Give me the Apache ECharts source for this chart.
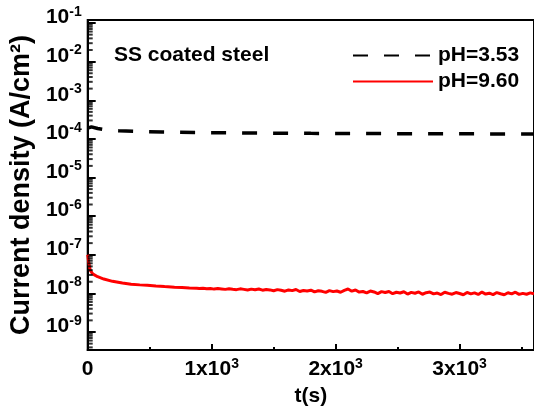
<!DOCTYPE html>
<html lang="en">
<head>
    <meta charset="UTF-8">
    <title>Current density vs time</title>
    <script src="https://cdn.jsdelivr.net/npm/echarts@6/dist/echarts.min.js"></script>
    <style>
        html, body { margin: 0; padding: 0; background: #fff; }
        #main { width: 534px; height: 415px; }
    </style>
</head>
<body>
<div id="main"></div>

<script type="text/javascript">
    // data
    var seriesNames = ['pH=3.53', 'pH=9.60'];

    var blackTime = [0, 30, 80, 150, 250, 400, 600, 900, 1300, 1800, 2400, 3000, 3600];
    var blackValue = [1.9e-4, 2.05e-4, 1.85e-4, 1.7e-4, 1.62e-4, 1.56e-4, 1.5e-4, 1.46e-4, 1.42e-4, 1.39e-4, 1.37e-4, 1.35e-4, 1.34e-4];

    var redTime = [0, 8, 20, 40, 80, 130, 200, 280, 350, 420, 480, 550, 620, 700, 760, 820, 880,
        900, 930, 960, 990, 1020, 1050, 1080, 1110, 1140, 1170,
        1200, 1230, 1260, 1290, 1320, 1350, 1380, 1410, 1440, 1470,
        1500, 1530, 1560, 1590, 1620, 1650, 1680, 1710, 1740, 1770,
        1800, 1830, 1860, 1890, 1920, 1950, 1980, 2010, 2040, 2070,
        2100, 2130, 2160, 2190, 2220, 2250, 2280, 2310, 2340, 2370,
        2400, 2430, 2460, 2490, 2520, 2550, 2580, 2610, 2640, 2670,
        2700, 2730, 2760, 2790, 2820, 2850, 2880, 2910, 2940, 2970,
        3000, 3030, 3060, 3090, 3120, 3150, 3180, 3210, 3240, 3270,
        3300, 3330, 3360, 3390, 3420, 3450, 3480, 3510, 3540, 3570,
        3600];
    // in units of 1e-8 A/cm2
    var redValue = [10.0, 6.5, 4.0, 3.2, 2.7, 2.35, 2.05, 1.85, 1.72, 1.66, 1.63, 1.56, 1.5, 1.45, 1.42, 1.38, 1.35,
        1.33, 1.35, 1.31, 1.34, 1.29, 1.33, 1.30, 1.27, 1.32, 1.28,
        1.25, 1.31, 1.27, 1.22, 1.29, 1.24, 1.30, 1.21, 1.26, 1.23,
        1.17, 1.25, 1.20, 1.14, 1.23, 1.18, 1.26, 1.12, 1.19, 1.15,
        1.21, 1.09, 1.17, 1.13, 1.06, 1.18, 1.11, 1.15, 1.07, 1.20,
        1.30, 1.14, 1.22, 1.08, 1.12, 1.03, 1.15, 1.09, 0.99, 1.11,
        1.05, 1.12, 0.98, 1.07, 1.02, 1.10, 0.96, 1.06, 1.01, 1.09,
        0.95, 1.04, 1.08, 0.97, 1.02, 0.93, 1.07, 1.00, 0.95, 1.05,
        0.99, 0.92, 1.06, 0.97, 1.03, 0.94, 1.08, 0.96, 1.01, 0.93,
        1.05, 0.98, 0.92, 1.04, 0.97, 1.07, 0.94, 1.00, 0.95, 1.03,
        0.97];

    var xTickBase = ['0', '1x10', '2x10', '3x10'];
    var xTickSup = ['', '3', '3', '3'];
    var yExponents = [-1, -2, -3, -4, -5, -6, -7, -8, -9];
    var minorFactors = [2, 3, 4, 5, 6, 7, 8, 9];

    var blackData = blackTime.map(function (t, i) { return [t, blackValue[i]]; });
    var redData = redTime.map(function (t, i) { return [t, redValue[i] * 1e-8]; });

    // log minor ticks on the left axis, drawn as small marks at x = 0
    var minorTicks = [];
    for (var e = -10; e <= -1; e++) {
        minorFactors.forEach(function (k) {
            var v = k * Math.pow(10, e);
            if (v > 3.42e-10 && v < 0.1196) minorTicks.push([0, v]);
        });
    }

    var font = 'Liberation Sans';
    var myChart = echarts.init(document.getElementById('main'));

    var option = {
        animation: false,
        textStyle: { fontFamily: font },
        title: {
            text: 'SS coated steel',
            left: 114,
            top: 45,
            padding: 0,
            textStyle: { fontFamily: font, fontSize: 21, fontWeight: 'bold', color: '#000' }
        },
        legend: {
            data: seriesNames,
            orient: 'vertical',
            left: 352,
            top: 45,
            padding: 0,
            itemWidth: 80,
            itemHeight: 14,
            itemGap: 5,
            itemStyle: { opacity: 0 },
            textStyle: { fontFamily: font, fontSize: 21, fontWeight: 'bold', color: '#000', lineHeight: 21 }
        },
        grid: {
            left: 87, right: -4, top: 20, bottom: 65,
            show: true, borderColor: '#000', borderWidth: 2
        },
        xAxis: {
            type: 'value',
            min: 0, max: 3600, interval: 1000,
            name: 't(s)',
            nameLocation: 'middle',
            nameGap: 36,
            nameTextStyle: { fontFamily: font, fontSize: 21, fontWeight: 'bold', color: '#000' },
            axisLine: { lineStyle: { color: '#000', width: 2 } },
            axisTick: { inside: true, length: 6, lineStyle: { color: '#000', width: 2 } },
            minorTick: { show: true, splitNumber: 2, length: 3, lineStyle: { color: '#000', width: 2 } },
            splitLine: { show: false },
            axisLabel: {
                margin: 8,
                showMaxLabel: false,
                formatter: function (v) {
                    var i = Math.round(v / 1000);
                    if (v % 1000 !== 0 || i >= xTickBase.length) return '';
                    return '{b|' + xTickBase[i] + '}' + (xTickSup[i] ? '{sup|' + xTickSup[i] + '}' : '');
                },
                rich: {
                    b: { fontFamily: font, fontSize: 21, fontWeight: 'bold', color: '#000', verticalAlign: 'bottom', lineHeight: 22 },
                    sup: { fontFamily: font, fontSize: 14, fontWeight: 'bold', color: '#000', verticalAlign: 'bottom', lineHeight: 22, padding: [0, 0, 9, 0] }
                }
            }
        },
        yAxis: {
            type: 'log',
            min: 3.42e-10, max: 0.1196,
            name: 'Current density (A/cm²)',
            nameLocation: 'middle',
            nameGap: 50,
            nameTextStyle: { fontFamily: font, fontSize: 27, fontWeight: 'bold', color: '#000' },
            axisLine: { lineStyle: { color: '#000', width: 2 } },
            axisTick: { inside: true, length: 8, lineStyle: { color: '#000', width: 2 } },
            splitLine: { show: false },
            axisLabel: {
                margin: 6,
                formatter: function (v) {
                    var ex = Math.round(Math.log(v) / Math.LN10);
                    if (Math.abs(Math.log(v) / Math.LN10 - ex) > 1e-6 || yExponents.indexOf(ex) < 0) return '';
                    return '{b|10}{sup|' + ex + '}';
                },
                rich: {
                    b: { fontFamily: font, fontSize: 21, fontWeight: 'bold', color: '#000', verticalAlign: 'bottom', lineHeight: 22, padding: [0, 0, 6, 0] },
                    sup: { fontFamily: font, fontSize: 14, fontWeight: 'bold', color: '#000', verticalAlign: 'bottom', lineHeight: 22, padding: [0, 0, 15, 0] }
                }
            }
        },
        series: [
            {
                name: seriesNames[0],
                type: 'line',
                data: blackData,
                symbol: 'none',
                lineStyle: { color: '#000', width: 3.5, type: [15, 16] },
                itemStyle: { color: '#000' },
                z: 3
            },
            {
                name: seriesNames[1],
                type: 'line',
                data: redData,
                symbol: 'none',
                lineStyle: { color: '#ff0000', width: 3 },
                itemStyle: { color: '#ff0000' },
                z: 3
            },
            {
                name: 'minor',
                type: 'scatter',
                data: minorTicks,
                symbol: 'rect',
                symbolSize: [5, 2],
                symbolOffset: [2.5, 0],
                itemStyle: { color: '#000' },
                silent: true,
                clip: false,
                z: 5
            }
        ]
    };

    myChart.setOption(option);
</script>

</body>
</html>
